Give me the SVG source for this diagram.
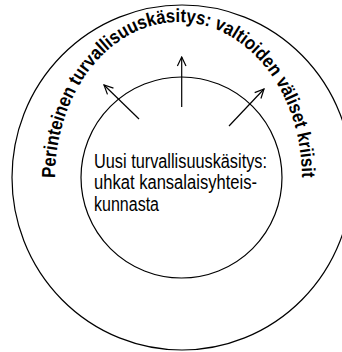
<svg xmlns="http://www.w3.org/2000/svg" width="342" height="352" viewBox="0 0 342 352">
  <style>
    .ring { fill: none; stroke: #000; stroke-width: 1.2; }
    .conn { fill: none; stroke: #000; stroke-width: 1.2; marker-end: url(#arrow); }
    .inner-text { font-family: "Liberation Sans", Arial, sans-serif; font-size: 20px; fill: #000; }
    .arc-text { font-family: "Liberation Sans", Arial, sans-serif; font-size: 19px; font-weight: bold; fill: #000; }
  </style>
  <defs>
    <marker id="arrow" markerUnits="userSpaceOnUse" viewBox="-11 -6 12 12" refX="0" refY="0" markerWidth="12" markerHeight="12" orient="auto">
      <path d="M -9,-4.3 L 0,0 L -9,4.3" fill="none" stroke="#000" stroke-width="1.2"/>
    </marker>
    <path id="arcPath" d="M 55,178 A 123.5,156 0 0 1 302,178"/>
  </defs>
  <rect width="342" height="352" fill="#fff"/>
  <g id="outer">
    <ellipse class="ring" cx="182" cy="177.5" rx="170" ry="172.5"/>
    <text class="arc-text"><textPath href="#arcPath" textLength="440" lengthAdjust="spacingAndGlyphs">Perinteinen turvallisuuskäsitys: valtioiden väliset kriisit</textPath></text>
  </g>
  <g id="inner">
    <circle class="ring" cx="181.5" cy="177.5" r="100.5"/>
    <text class="inner-text" x="94" y="167.5" textLength="173" lengthAdjust="spacingAndGlyphs">Uusi turvallisuuskäsitys:</text>
    <text class="inner-text" x="94" y="189" textLength="163" lengthAdjust="spacingAndGlyphs">uhkat kansalaisyhteis-</text>
    <text class="inner-text" x="94" y="210.5" textLength="65" lengthAdjust="spacingAndGlyphs">kunnasta</text>
  </g>
  <g id="connectors">
    <line class="conn" x1="139" y1="119" x2="104" y2="85"/>
    <line class="conn" x1="181.7" y1="107" x2="181.7" y2="57"/>
    <line class="conn" x1="229" y1="126" x2="264" y2="89"/>
  </g>
</svg>
